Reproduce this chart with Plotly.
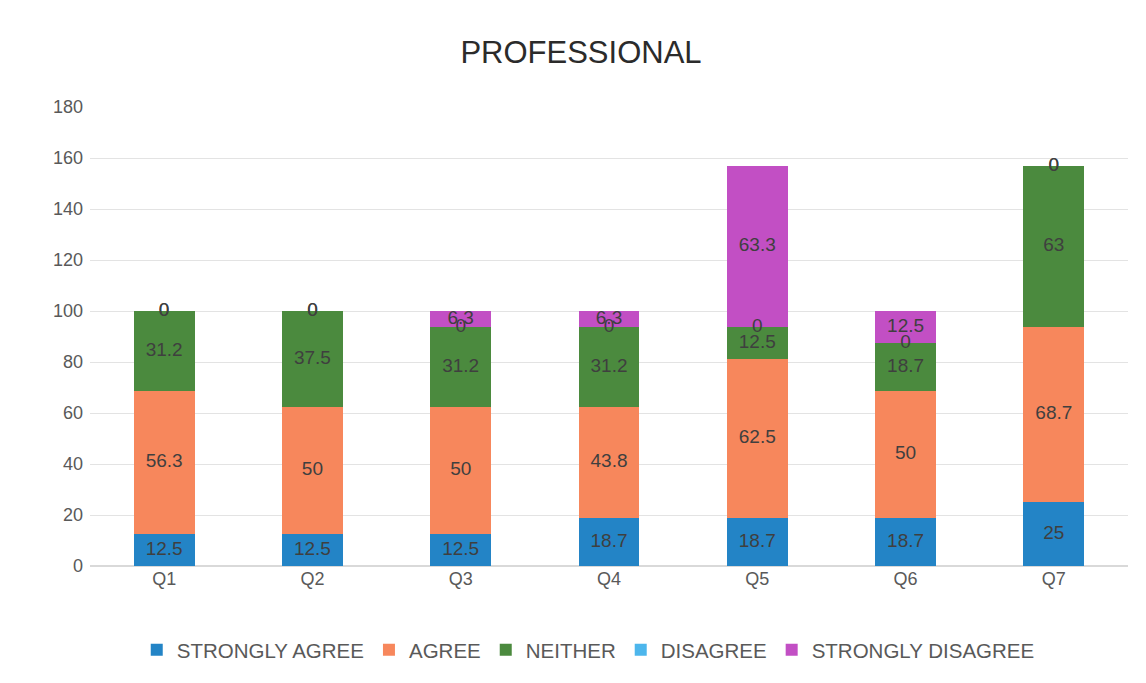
import plotly.graph_objects as go
import numpy as np

categories = ["Q1", "Q2", "Q3", "Q4", "Q5", "Q6", "Q7"]
strongly_agree = [12.5, 12.5, 12.5, 18.7, 18.7, 18.7, 25]
agree = [56.3, 50, 50, 43.8, 62.5, 50, 68.7]
neither = [31.2, 37.5, 31.2, 31.2, 12.5, 18.7, 63]
disagree = [0, 0, 0, 0, 0, 0, 0]
strongly_disagree = [0, 0, 6.3, 6.3, 63.3, 12.5, 0]
y_ticks = [0, 20, 40, 60, 80, 100, 120, 140, 160, 180]

series = [
    ("STRONGLY AGREE", strongly_agree, "#2384c6"),
    ("AGREE", agree, "#f7875c"),
    ("NEITHER", neither, "#4b8a3e"),
    ("DISAGREE", disagree, "#4db6ec"),
    ("STRONGLY DISAGREE", strongly_disagree, "#c24fc4"),
]

FONT = "Liberation Sans, Arial, sans-serif"

fig = go.Figure()
base = np.zeros(len(categories))
label_x, label_y, label_t = [], [], []
for name, vals, col in series:
    v = np.array(vals, dtype=float)
    fig.add_trace(go.Bar(
        x=categories, y=v, name=name, marker=dict(color=col, line=dict(width=0)),
        width=0.41,
    ))
    mids = base + v / 2
    for c, m, val in zip(categories, mids, vals):
        label_x.append(c)
        label_y.append(m)
        label_t.append(f"{val:g}")
    base = base + v

fig.add_trace(go.Scatter(
    x=label_x, y=label_y, text=label_t, mode="text",
    textfont=dict(size=19, color="#3f3f3f", family=FONT),
    showlegend=False, hoverinfo="skip",
))

fig.update_layout(
    barmode="stack",
    width=1146, height=683,
    paper_bgcolor="white", plot_bgcolor="white",
    margin=dict(l=82, r=26, t=99, b=125),
    title=dict(text="PROFESSIONAL", x=0.5, xanchor="center", y=1 - 44 / 683, yanchor="middle",
               font=dict(size=31, color="#2b2b2b", family=FONT)),
    font=dict(family=FONT, color="#595959", size=18),
    legend=dict(orientation="h", x=0.48, xanchor="center", y=-0.183, yanchor="middle",
                font=dict(size=20.5, color="#595959"), traceorder="normal",
                itemwidth=30),
    xaxis=dict(showgrid=False, showline=False, ticks="", tickfont=dict(size=18, color="#595959")),
    yaxis=dict(range=[0, 180], tickvals=y_ticks, showgrid=True, gridcolor="#e3e3e3", gridwidth=1,
               zeroline=True, zerolinecolor="#d9d9d9", showline=False,
               tickfont=dict(size=18, color="#595959"), ticklabelstandoff=6),
    bargap=0.59,
)

fig.write_html("out.html")
